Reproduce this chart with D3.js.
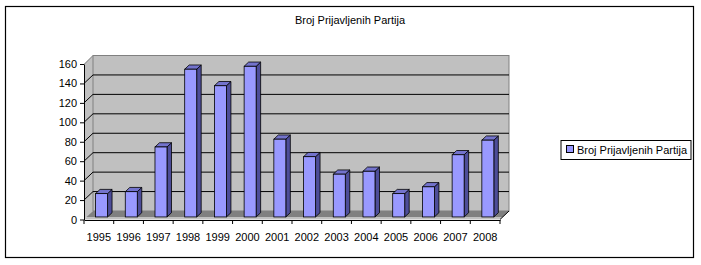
<!DOCTYPE html>
<html>
<head>
<meta charset="utf-8">
<script src="https://cdn.jsdelivr.net/npm/d3@7"></script>
<style>
  html, body { margin: 0; padding: 0; background: #fff; }
  svg { display: block; }
  text { font-family: Arial, "Liberation Sans", sans-serif; font-size: 11px; fill: #000; }
</style>
</head>
<body>
<svg id="chart" width="701" height="265"></svg>
<script>
const title = "Broj Prijavljenih Partija";
const seriesName = "Broj Prijavljenih Partija";
const years = ["1995","1996","1997","1998","1999","2000","2001","2002","2003","2004","2005","2006","2007","2008"];
const values = [24, 26, 72, 152, 135, 155, 80, 62, 44, 47, 24, 31, 64, 79];
const yTicks = [0, 20, 40, 60, 80, 100, 120, 140, 160];

const svg = d3.select("#chart");

// outer border
svg.append("rect").attr("x", 5.5).attr("y", 6.5).attr("width", 688).attr("height", 251)
  .attr("fill", "#fff").attr("stroke", "#000").attr("stroke-width", 1.2);

// title
svg.append("text").attr("x", 350).attr("y", 20).attr("dy", "0.35em")
  .attr("text-anchor", "middle").text(title);

// geometry
const dx = 9, dy = 8.5;
const x = d3.scaleBand().domain(years).range([84, 500]).paddingInner(0).paddingOuter(0);
const yFront = d3.scaleLinear().domain([0, 160]).range([219.5, 64]);
const yBack = v => yFront(v) - dy;
const xL = x.range()[0], xR = x.range()[1];

// side wall (left)
svg.append("path")
  .attr("d", `M${xL},${yFront(0)} L${xL},${yFront(160)} L${xL+dx},${yBack(160)} L${xL+dx},${yBack(0)} Z`)
  .attr("fill", "#c0c0c0").attr("stroke", "none");
// back wall
svg.append("rect").attr("x", xL + dx).attr("y", yBack(160))
  .attr("width", xR - xL).attr("height", yBack(0) - yBack(160))
  .attr("fill", "#c0c0c0").attr("stroke", "#808080").attr("stroke-width", 1);
svg.append("line").attr("x1", xL + 0.5).attr("x2", xL + dx).attr("y1", yFront(160)).attr("y2", yBack(160))
  .attr("stroke", "#808080");

// gridlines
const grid = yTicks.filter(v => v > 0 && v < 160);
svg.append("g").selectAll("path").data(grid).join("path")
  .attr("d", v => `M${xL},${yFront(v)} L${xL+dx},${yBack(v)} L${xR+dx},${yBack(v)}`)
  .attr("fill", "none").attr("stroke", "#000").attr("stroke-width", 1);

// floor
svg.append("path")
  .attr("d", `M${xL},${yFront(0)} L${xL+dx},${yBack(0)} L${xR+dx},${yBack(0)} L${xR},${yFront(0)} Z`)
  .attr("fill", "#c0c0c0");
svg.append("path")
  .attr("d", `M${xL+2.5},${yFront(0)-2.5} L${xL+dx},${yBack(0)} L${xR+dx},${yBack(0)} L${xR+2.5},${yFront(0)-2.5} Z`)
  .attr("fill", "#808080");
svg.append("line").attr("x1", xR).attr("y1", yFront(0)).attr("x2", xR + dx).attr("y2", yBack(0))
  .attr("stroke", "#000");

// bars
const bw = 12, f0 = 0.3, f1 = 0.8;
const bars = svg.append("g").selectAll("g").data(years.map((y, i) => ({y, v: values[i]}))).join("g");
bars.each(function(d) {
  const g = d3.select(this);
  const x0 = x(d.y) + (x.bandwidth() - bw) / 2 + f0 * dx;
  const yb = yFront(0) - f0 * dy;
  const yt = yFront(d.v) - f0 * dy;
  const ddx = (f1 - f0) * dx, ddy = (f1 - f0) * dy;
  // side
  g.append("path").attr("d", `M${x0+bw},${yb} L${x0+bw},${yt} L${x0+bw+ddx},${yt-ddy} L${x0+bw+ddx},${yb-ddy} Z`)
    .attr("fill", "#4d4d99").attr("stroke", "#000").attr("stroke-width", 0.8);
  // top
  g.append("path").attr("d", `M${x0},${yt} L${x0+ddx},${yt-ddy} L${x0+bw+ddx},${yt-ddy} L${x0+bw},${yt} Z`)
    .attr("fill", "#7373cc").attr("stroke", "#000").attr("stroke-width", 0.8);
  // front
  g.append("rect").attr("x", x0).attr("y", yt).attr("width", bw).attr("height", yb - yt)
    .attr("fill", "#9999ff").attr("stroke", "#000").attr("stroke-width", 0.8);
});

// y axis
const yAxis = svg.append("g").attr("transform", `translate(${xL},0)`)
  .call(d3.axisLeft(yFront).tickValues(yTicks).tickSize(4).tickSizeOuter(0).tickPadding(3));
yAxis.selectAll("path,line").attr("stroke", "#000");
yAxis.selectAll("text").attr("font-size", 11).attr("font-family", "Arial, 'Liberation Sans', sans-serif");

// x axis
const xAxis = svg.append("g").attr("transform", `translate(0,${yFront(0) + 0.5})`)
  .call(d3.axisBottom(x).tickSize(0).tickSizeOuter(0).tickPadding(13));
xAxis.select(".domain").attr("stroke", "#000");
xAxis.selectAll("text").attr("font-size", 11).attr("font-family", "Arial, 'Liberation Sans', sans-serif");
xAxis.append("g").selectAll("line").data(d3.range(years.length + 1)).join("line")
  .attr("x1", i => xL + i * x.step()).attr("x2", i => xL + i * x.step())
  .attr("y1", 0).attr("y2", 4).attr("stroke", "#000");

// legend
const lg = svg.append("g");
lg.append("rect").attr("x", 561).attr("y", 140.5).attr("width", 130).attr("height", 19)
  .attr("fill", "#fff").attr("stroke", "#000");
lg.append("rect").attr("x", 566.5).attr("y", 145.5).attr("width", 7).attr("height", 7)
  .attr("fill", "#9999ff").attr("stroke", "#000");
lg.append("text").attr("x", 577).attr("y", 150).attr("dy", "0.35em").text(seriesName);
</script>
</body>
</html>
